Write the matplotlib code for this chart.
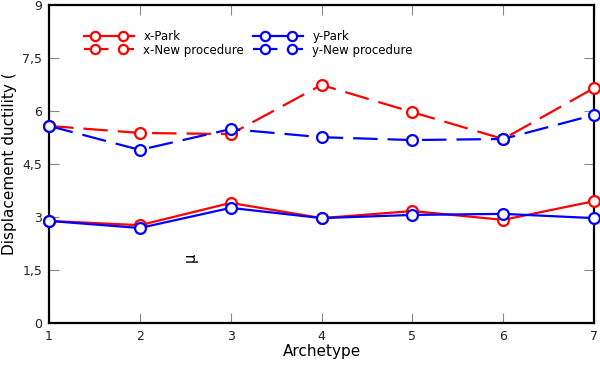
import matplotlib
matplotlib.use("Agg")
import numpy as np
import matplotlib.pyplot as plt
from matplotlib.lines import Line2D
from matplotlib.legend_handler import HandlerLine2DCompound

archetypes = [1, 2, 3, 4, 5, 6, 7]
x_park = [2.89, 2.77, 3.40, 2.97, 3.17, 2.92, 3.45]
y_park = [2.89, 2.69, 3.26, 2.97, 3.06, 3.09, 2.97]
x_new = [5.58, 5.38, 5.35, 6.74, 5.97, 5.21, 6.65]
y_new = [5.58, 4.90, 5.49, 5.26, 5.18, 5.21, 5.89]
yticks = [0, 1.5, 3, 4.5, 6, 7.5, 9]
ytick_labels = ["0", "1,5", "3", "4,5", "6", "7,5", "9"]


class FullLineHandler(HandlerLine2DCompound):
    def create_artists(self, legend, orig_handle, xdescent, ydescent,
                       width, height, fontsize, trans):
        arts = super().create_artists(legend, orig_handle, xdescent, ydescent,
                                      width, height, fontsize, trans)
        line = arts[0]
        y = np.asarray(line.get_ydata())
        line.set_xdata(np.array([-xdescent, width - xdescent]))
        line.set_ydata(np.array([y[0], y[0]]))
        return arts


plt.rcParams['font.family'] = 'DejaVu Sans'
fig = plt.figure(figsize=(6, 3.65), dpi=100)
ax = fig.add_axes([0.0817, 0.115, 0.9083, 0.871])

common = dict(marker='o', markersize=7.8, markerfacecolor='white',
              markeredgewidth=1.6, linewidth=1.6, clip_on=False, zorder=3)
l1, = ax.plot(archetypes, x_park, color='#ff0000', label='x-Park', **common)
l2, = ax.plot(archetypes, x_new, color='#ff0000', label='x-New procedure',
              dashes=(11, 4.5), **common)
l3, = ax.plot(archetypes, y_park, color='#0000ff', label='y-Park', **common)
l4, = ax.plot(archetypes, y_new, color='#0000ff', label='y-New procedure',
              dashes=(11, 4.5), **common)

ax.set_xlim(1, 7)
ax.set_ylim(0, 9)
ax.set_xticks(archetypes)
ax.set_yticks(yticks)
ax.set_yticklabels(ytick_labels)
ax.tick_params(direction='in', length=7, width=0.8, color='#888888',
               top=True, right=True, labelsize=9, pad=5, labelcolor='#222222')
for s in ax.spines.values():
    s.set_linewidth(1.6)
    s.set_color('black')

ax.set_xlabel('Archetype', fontsize=11, labelpad=1)
ax.set_ylabel('Displacement ductility (', fontsize=11, labelpad=4)
ax.text(2.55, 1.87, 'μ', rotation=90, fontsize=10.5, ha='center', va='center')

leg = ax.legend(handles=[l1, l2, l3, l4], ncol=2, frameon=False, numpoints=2,
                loc='upper left', bbox_to_anchor=(0.045, 0.955), fontsize=8.5,
                handlelength=4.2, columnspacing=0.8, handletextpad=0.8,
                labelspacing=0.05, markerscale=0.85,
                handler_map={Line2D: FullLineHandler(marker_pad=0.95)})

fig.savefig('out.png', dpi=100)
